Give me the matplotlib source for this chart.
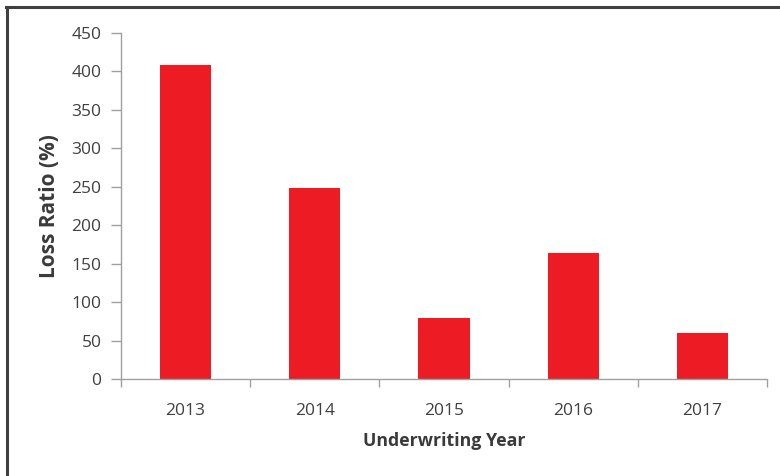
import matplotlib
matplotlib.use("Agg")
import matplotlib.pyplot as plt
from matplotlib.lines import Line2D

# data
years = ["2013", "2014", "2015", "2016", "2017"]
loss_ratio = [408, 248, 79, 164, 60]
y_ticks = [0, 50, 100, 150, 200, 250, 300, 350, 400, 450]

plt.rcParams["font.family"] = ["Open Sans", "DejaVu Sans"]

W, H = 780, 476
fig = plt.figure(figsize=(W / 100, H / 100), dpi=100)
ax = fig.add_axes([121 / W, 1 - 379 / H, (767 - 121) / W, (379 - 33) / H])

x = range(len(years))
ax.bar(x, loss_ratio, width=0.395, color="#ed1c24", zorder=2)

ax.set_xlim(-0.5, len(years) - 0.5)
ax.set_ylim(0, 450)
ax.set_yticks(y_ticks)
ax.set_xticks(list(x))
ax.set_xticklabels(years)
# tick marks sit between categories on the x axis
ax.set_xticks([i - 0.5 for i in range(len(years) + 1)], minor=True)
ax.tick_params(axis="x", which="major", length=0, pad=17, labelsize=12.5, labelcolor="#404040")
ax.tick_params(axis="x", which="minor", length=6, width=1, color="#a0a0a0")
ax.tick_params(axis="y", length=7, width=1, color="#a0a0a0", pad=7, labelsize=12.5, labelcolor="#404040")

for s in ["top", "right"]:
    ax.spines[s].set_visible(False)
for s in ["left", "bottom"]:
    ax.spines[s].set_color("#a0a0a0")
    ax.spines[s].set_linewidth(1)

ax.set_xlabel("Underwriting Year", fontsize=12.8, fontweight="bold", color="#3a3a3a", labelpad=10)
ax.set_ylabel("Loss Ratio (%)", fontsize=15, fontweight="bold", color="#3a3a3a", labelpad=8)

# frame of the original figure (left and top edges only)
fig.add_artist(Line2D([6.5 / W, 6.5 / W], [0, 1 - 6.5 / H], color="#404040", lw=2.2, transform=fig.transFigure))
fig.add_artist(Line2D([5.5 / W, 1], [1 - 6.5 / H, 1 - 6.5 / H], color="#404040", lw=2.2, transform=fig.transFigure))

fig.savefig("out.png", dpi=100)
